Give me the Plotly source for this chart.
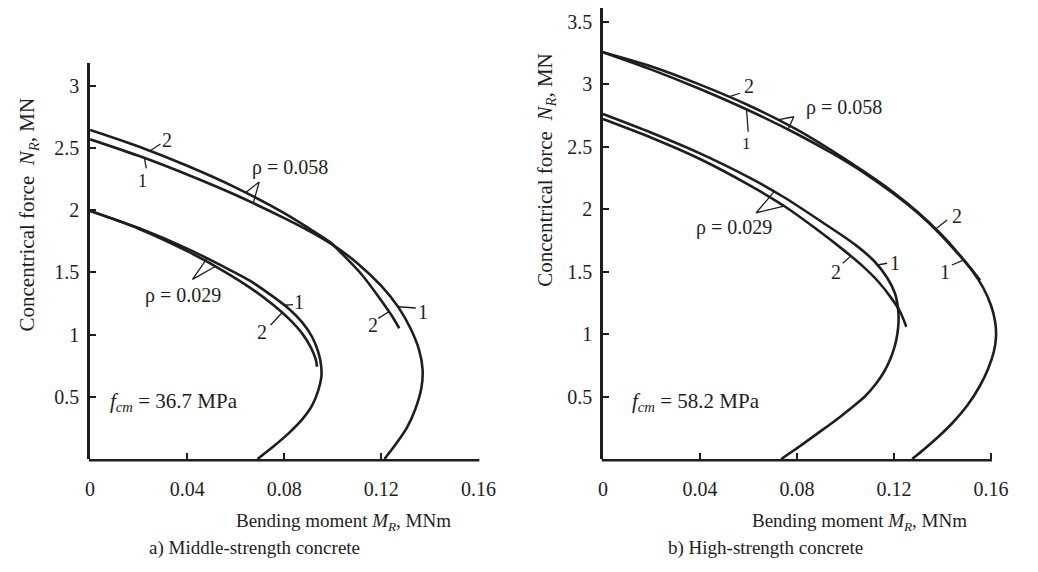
import numpy as np
import plotly.graph_objects as go

# ---------------------------------------------------------------
# N_R - M_R interaction curves of a column section.
# Curve 1 / curve 2 = two calculation methods, rho = reinforcement ratio.
# ---------------------------------------------------------------

# a) middle-strength concrete, f_cm = 36.7 MPa
a_r058_c1_m = [0, 0.02, 0.04, 0.06, 0.08, 0.09, 0.10, 0.11, 0.12, 0.127, 0.132, 0.1355,
               0.137, 0.1365, 0.134, 0.1305, 0.126, 0.1213]
a_r058_c1_n = [2.568, 2.435, 2.285, 2.12, 1.935, 1.835, 1.72, 1.575, 1.39, 1.22, 1.05, 0.88,
               0.72, 0.57, 0.40, 0.25, 0.12, 0.0]
a_r058_c2_m = [0, 0.02, 0.04, 0.06, 0.08, 0.09, 0.099, 0.105, 0.112, 0.119, 0.124, 0.1274]
a_r058_c2_n = [2.643, 2.51, 2.355, 2.18, 1.975, 1.855, 1.74, 1.625, 1.48, 1.30, 1.16, 1.05]

a_r029_c1_m = [0, 0.02, 0.04, 0.055, 0.066, 0.075, 0.082, 0.0875, 0.0915, 0.094, 0.0952,
               0.0953, 0.094, 0.0915, 0.0875, 0.082, 0.0755, 0.069]
a_r029_c1_n = [1.992, 1.855, 1.69, 1.545, 1.43, 1.31, 1.205, 1.095, 0.98, 0.86, 0.75,
               0.66, 0.55, 0.43, 0.32, 0.21, 0.10, 0.0]
a_r029_c2_m = [0, 0.02, 0.04, 0.055, 0.066, 0.075, 0.082, 0.0875, 0.091, 0.093, 0.0935]
a_r029_c2_n = [1.992, 1.85, 1.67, 1.51, 1.375, 1.245, 1.125, 1.005, 0.895, 0.80, 0.741]

# b) high-strength concrete, f_cm = 58.2 MPa
b_r058_c1_m = [0, 0.02, 0.04, 0.06, 0.08, 0.095, 0.108, 0.12, 0.13, 0.139, 0.1465, 0.1525,
               0.1568, 0.16, 0.1617, 0.1621, 0.1612, 0.1588, 0.1553, 0.1503, 0.1443, 0.1383,
               0.1323, 0.1275]
b_r058_c1_n = [3.254, 3.115, 2.96, 2.79, 2.60, 2.44, 2.285, 2.12, 1.965, 1.80, 1.64, 1.50,
               1.37, 1.23, 1.10, 0.98, 0.86, 0.72, 0.58, 0.43, 0.292, 0.178,
               0.076, 0.0]
b_r058_c2_m = [0, 0.02, 0.04, 0.06, 0.08, 0.095, 0.108, 0.12, 0.13, 0.139, 0.1465, 0.1525,
               0.1555]
b_r058_c2_n = [3.254, 3.14, 2.995, 2.83, 2.635, 2.46, 2.295, 2.13, 1.972, 1.806, 1.646, 1.505,
               1.43]

b_r029_c1_m = [0, 0.02, 0.04, 0.06, 0.075, 0.09, 0.104, 0.112, 0.1172, 0.1204, 0.1217,
               0.1219, 0.1214, 0.1203, 0.1185, 0.116, 0.1125, 0.108, 0.1025, 0.096, 0.0885,
               0.081, 0.0735]
b_r029_c1_n = [2.76, 2.61, 2.445, 2.255, 2.09, 1.90, 1.715, 1.58, 1.45, 1.326, 1.20,
               1.10, 1.00, 0.90, 0.80, 0.70, 0.60, 0.50, 0.41, 0.31, 0.205,
               0.10, 0.0]
b_r029_c2_m = [0, 0.02, 0.04, 0.06, 0.075, 0.088, 0.099, 0.107, 0.1135, 0.119, 0.1225, 0.1251]
b_r029_c2_n = [2.72, 2.57, 2.40, 2.195, 2.02, 1.84, 1.675, 1.545, 1.42, 1.285, 1.18, 1.058]

x_ticks = [0, 0.04, 0.08, 0.12, 0.16]
x_tick_text = ["0", "0.04", "0.08", "0.12", "0.16"]
a_y_ticks = [0.5, 1, 1.5, 2, 2.5, 3]
b_y_ticks = [0.5, 1, 1.5, 2, 2.5, 3, 3.5]
x_axis_end = 0.16

INK = "#1e1e1e"
FONT = "Liberation Serif, Times New Roman, serif"
W, H = 1038, 572


def upper_branch(ms, ns):
    k = int(np.argmax(ms)) + 1
    return np.asarray(ms[:k], float), np.asarray(ns[:k], float)


def at_m(curve, m):
    ms, ns = upper_branch(*curve)
    return (m, float(np.interp(m, ms, ns)))


def at_n(curve, n):
    ms, ns = upper_branch(*curve)
    return (float(np.interp(n, ns[::-1], ms[::-1])), n)


fig = go.Figure()


def curve_trace(curve, ax):
    fig.add_trace(go.Scatter(
        x=curve[0], y=curve[1], mode="lines",
        line=dict(color=INK, width=2.6, shape="spline", smoothing=0.8),
        xaxis=ax[0], yaxis=ax[1], showlegend=False, hoverinfo="skip"))


def leader(points, ax):
    fig.add_trace(go.Scatter(
        x=[p[0] for p in points], y=[p[1] for p in points], mode="lines",
        line=dict(color=INK, width=1.3),
        xaxis=ax[0], yaxis=ax[1], showlegend=False, hoverinfo="skip"))


def label(text, pos, ax, size=20, xanchor="center"):
    fig.add_annotation(
        x=pos[0], y=pos[1], xref=ax[0], yref=ax[1], text=text, showarrow=False,
        xanchor=xanchor, yanchor="middle",
        font=dict(family=FONT, size=size, color=INK))


AX_A = ("x", "y")
AX_B = ("x2", "y2")

A58_1 = (a_r058_c1_m, a_r058_c1_n)
A58_2 = (a_r058_c2_m, a_r058_c2_n)
A29_1 = (a_r029_c1_m, a_r029_c1_n)
A29_2 = (a_r029_c2_m, a_r029_c2_n)
B58_1 = (b_r058_c1_m, b_r058_c1_n)
B58_2 = (b_r058_c2_m, b_r058_c2_n)
B29_1 = (b_r029_c1_m, b_r029_c1_n)
B29_2 = (b_r029_c2_m, b_r029_c2_n)

for c in (A58_1, A58_2, A29_1, A29_2):
    curve_trace(c, AX_A)
for c in (B58_1, B58_2, B29_1, B29_2):
    curve_trace(c, AX_B)

# ---- panel a: curve numbers, rho labels and their leaders
leader([(0.029, 2.53), at_m(A58_2, 0.0246)], AX_A)
label("2", (0.0315, 2.565), AX_A)
leader([(0.0232, 2.335), at_m(A58_1, 0.0224)], AX_A)
label("1", (0.0214, 2.235), AX_A, size=18)
leader([at_m(A58_2, 0.0640), (0.0697, 2.225), at_m(A58_1, 0.0672)], AX_A)
label("ρ = 0.058", (0.0825, 2.345), AX_A)

leader([at_m(A29_1, 0.0482), (0.0422, 1.443), at_m(A29_2, 0.0516)], AX_A)
label("ρ = 0.029", (0.0383, 1.317), AX_A)
leader([(0.0836, 1.24), at_m(A29_1, 0.0800)], AX_A)
label("1", (0.0862, 1.265), AX_A)
leader([(0.0744, 1.076), at_m(A29_2, 0.0791)], AX_A)
label("2", (0.0709, 1.02), AX_A)

leader([(0.1342, 1.213), at_n(A58_1, 1.223)], AX_A)
label("1", (0.1372, 1.183), AX_A)
leader([(0.1187, 1.13), at_n(A58_2, 1.183)], AX_A)
label("2", (0.1167, 1.076), AX_A)

label("<i>f</i><sub><i>cm</i></sub> = 36.7 MPa", (0.0072, 0.458), AX_A, size=21, xanchor="left")

# ---- panel b
leader([(0.0565, 2.926), at_m(B58_2, 0.0518)], AX_B)
label("2", (0.0602, 2.98), AX_B)
leader([(0.0599, 2.618), at_m(B58_1, 0.0592)], AX_B)
label("1", (0.0592, 2.526), AX_B, size=17)
leader([at_m(B58_2, 0.0720), (0.0787, 2.738), at_m(B58_1, 0.0763)], AX_B)
label("ρ = 0.058", (0.0994, 2.808), AX_B)

leader([at_m(B29_1, 0.0706), (0.0632, 1.97), at_m(B29_2, 0.0747)], AX_B)
label("ρ = 0.029", (0.0542, 1.848), AX_B)
leader([(0.0989, 1.566), at_m(B29_2, 0.1022)], AX_B)
label("2", (0.0962, 1.498), AX_B)
leader([(0.1172, 1.566), at_n(B29_1, 1.552)], AX_B)
label("1", (0.1204, 1.566), AX_B)

leader([(0.1419, 1.912), at_m(B58_2, 0.1372)], AX_B)
label("2", (0.1459, 1.94), AX_B)
leader([(0.1439, 1.552), at_m(B58_1, 0.1486)], AX_B)
label("1", (0.1412, 1.498), AX_B)

label("<i>f</i><sub><i>cm</i></sub> = 58.2 MPa", (0.0111, 0.456), AX_B, size=21, xanchor="left")

# ---- axes (x axis lines drawn as shapes so the outer curve may pass the 0.16 tick)
axis_common = dict(
    showgrid=False, zeroline=False,
    ticks="inside", ticklen=6, tickwidth=2, tickcolor=INK, mirror=False,
    tickfont=dict(family=FONT, size=20, color=INK), fixedrange=True,
)
y_bottom = 1 - 459 / H
a_x_dom = [87 / W, (87 + 0.16 * 2482) / W]
a_x_max = 0.16
b_x_max = 0.1655
b_x_dom = [611.5 / W, (611.5 + b_x_max * 2480) / W]

fig.update_layout(
    width=W, height=H, margin=dict(l=0, r=0, t=0, b=0),
    paper_bgcolor="white", plot_bgcolor="white", showlegend=False,
    xaxis=dict(axis_common, showline=False, domain=a_x_dom,
               range=[0, a_x_max], tickvals=x_ticks, ticktext=x_tick_text, anchor="y",
               ticklabelstandoff=16),
    yaxis=dict(axis_common, showline=True, linewidth=2.5, linecolor=INK,
               domain=[y_bottom, 1 - 63 / H], range=[0, 396 / 124.5],
               tickvals=a_y_ticks, anchor="x", ticklabelstandoff=4),
    xaxis2=dict(axis_common, showline=False, domain=b_x_dom,
                range=[0, b_x_max], tickvals=x_ticks, ticktext=x_tick_text, anchor="y2",
                ticklabelstandoff=16),
    yaxis2=dict(axis_common, showline=True, linewidth=2.5, linecolor=INK,
                domain=[y_bottom, 1 - 8 / H], range=[0, 451 / 125],
                tickvals=b_y_ticks, anchor="x2", ticklabelstandoff=4),
)

# x axis baselines, from the y axis to the last tick, in paper coordinates
line_y = y_bottom - 1.2 / H
for dom, xmax in ((a_x_dom, a_x_max), (b_x_dom, b_x_max)):
    x_start = dom[0] - 1.2 / W
    x_end = dom[0] + (dom[1] - dom[0]) * x_axis_end / xmax + 1.0 / W
    fig.add_shape(type="line", xref="paper", yref="paper", x0=x_start, x1=x_end,
                  y0=line_y, y1=line_y, line=dict(color=INK, width=2.5), layer="above")

# ---- axis titles and panel captions
titles = [
    ("Bending moment <i>M</i><sub><i>R</i></sub>, MNm", 346 / W, 1 - 522 / H, 0, 19),
    ("Bending moment <i>M</i><sub><i>R</i></sub>, MNm", 874 / W, 1 - 522 / H, 0, 19),
    ("Concentrical force  <i>N</i><sub><i>R</i></sub>, MN", 24 / W, 1 - 214 / H, -90, 21),
    ("Concentrical force  <i>N</i><sub><i>R</i></sub>, MN", 553 / W, 1 - 170 / H, -90, 21),
    ("a) Middle-strength concrete", 255 / W, 1 - 548 / H, 0, 19),
    ("b) High-strength concrete", 778 / W, 1 - 548 / H, 0, 19),
]
for text, px, py, ang, size in titles:
    fig.add_annotation(x=px, y=py, xref="paper", yref="paper", text=text,
                       showarrow=False, textangle=ang, xanchor="center", yanchor="middle",
                       font=dict(family=FONT, size=size, color=INK))

fig.write_html("out.html")
